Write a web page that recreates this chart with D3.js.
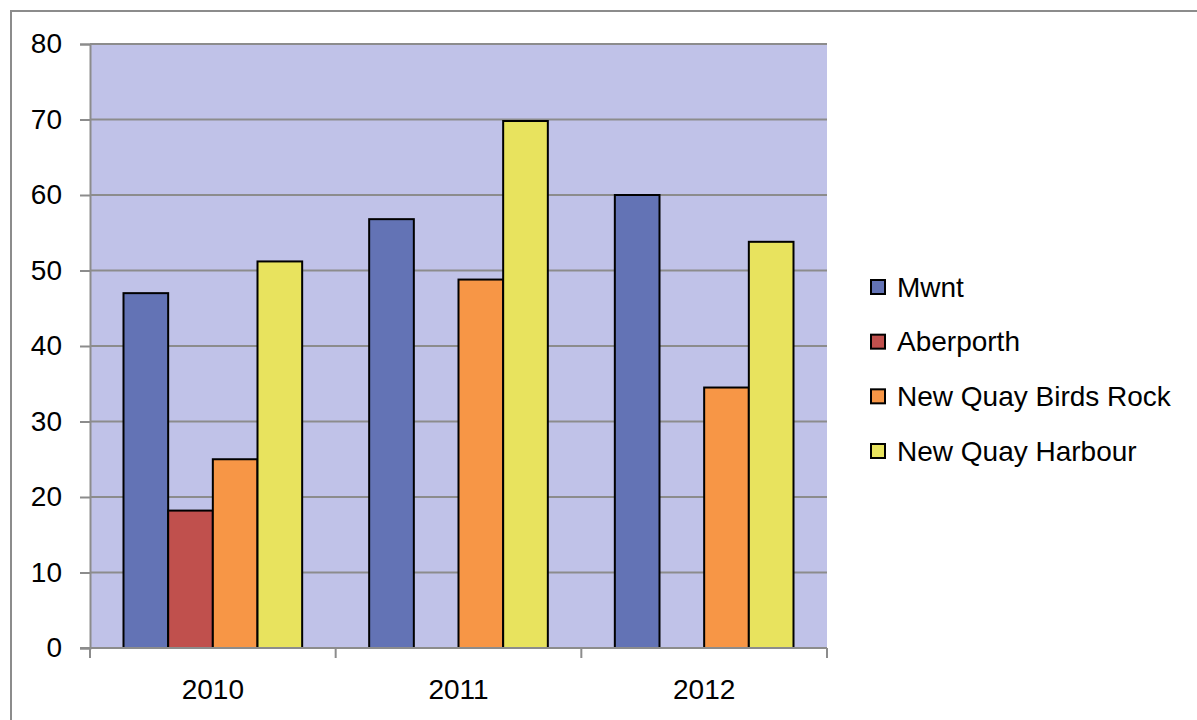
<!DOCTYPE html>
<html>
<head>
<meta charset="utf-8">
<script src="https://cdn.jsdelivr.net/npm/d3@7"></script>
<style>
  html, body { margin: 0; padding: 0; background: #ffffff; }
  svg { display: block; }
  text { font-family: "Liberation Sans", Arial, sans-serif; fill: #000; }
</style>
</head>
<body>
<svg id="chart" width="1197" height="720"></svg>
<script>
// Years on the category axis
const years = ["2010", "2011", "2012"];

// Sites (one series each)
const sites = ["Mwnt", "Aberporth", "New Quay Birds Rock", "New Quay Harbour"];

// Counts per site, one value per year (null = no bar)
const mwnt       = [47, 56.8, 60];
const aberporth  = [18.2, null, null];
const birdsRock  = [25, 48.8, 34.5];
const harbour    = [51.2, 69.8, 53.8];

// Value-axis ticks
const yTicks = [0, 10, 20, 30, 40, 50, 60, 70, 80];

const seriesValues = [mwnt, aberporth, birdsRock, harbour];
const colors = ["#6373B5", "#C0504D", "#F79646", "#E8E35E"];

const svg = d3.select("#chart");

// Outer chart frame
svg.append("rect")
  .attr("x", 11).attr("y", 11)
  .attr("width", 1200).attr("height", 720)
  .attr("fill", "none").attr("stroke", "#8c8c8c").attr("stroke-width", 2);

const plot = { left: 90, right: 827, top: 44, bottom: 648 };

const x0 = d3.scaleBand()
  .domain(years)
  .range([plot.left, plot.right])
  .paddingInner(0).paddingOuter(0);

// Bars take 4 slots of width w with a gap of 1.5w per category
const x1 = d3.scaleBand()
  .domain(sites)
  .range([0, x0.bandwidth()])
  .paddingInner(0)
  .paddingOuter(0.75);

const y = d3.scaleLinear()
  .domain([0, 80])
  .range([plot.bottom, plot.top]);

// Plot background
svg.append("rect")
  .attr("x", plot.left).attr("y", plot.top)
  .attr("width", plot.right - plot.left)
  .attr("height", plot.bottom - plot.top)
  .attr("fill", "#C0C2E8");

// Horizontal gridlines
svg.append("g")
  .selectAll("line")
  .data(yTicks.filter(d => d > 0))
  .join("line")
  .attr("x1", plot.left).attr("x2", plot.right)
  .attr("y1", d => y(d)).attr("y2", d => y(d))
  .attr("stroke", "#8c8c8c").attr("stroke-width", 2);

// Bars
const rows = [];
years.forEach((yr, i) => {
  sites.forEach((s, j) => {
    const v = seriesValues[j][i];
    if (v != null) rows.push({ year: yr, site: s, value: v, color: colors[j] });
  });
});

svg.append("g")
  .selectAll("rect")
  .data(rows)
  .join("rect")
  .attr("x", d => x0(d.year) + x1(d.site))
  .attr("y", d => y(d.value))
  .attr("width", x1.bandwidth())
  .attr("height", d => y(0) - y(d.value))
  .attr("fill", d => d.color)
  .attr("stroke", "#000").attr("stroke-width", 2);

// Value axis
const yAxis = d3.axisLeft(y)
  .tickValues(yTicks)
  .tickSize(10)
  .tickPadding(18)
  .tickFormat(d3.format("d"));

const gy = svg.append("g")
  .attr("transform", `translate(${plot.left},0)`)
  .call(yAxis);
gy.select(".domain").attr("stroke", "#8c8c8c").attr("stroke-width", 2);
gy.selectAll(".tick line").attr("stroke", "#8c8c8c").attr("stroke-width", 2);
gy.selectAll(".tick text")
  .attr("font-size", 28)
  .attr("font-family", "Liberation Sans, Arial, sans-serif")
  .attr("fill", "#000");

// Category axis: ticks at category boundaries
const boundaries = [plot.left].concat(years.map(yr => x0(yr) + x0.bandwidth()));
const gx = svg.append("g");
gx.append("line")
  .attr("x1", plot.left - 10).attr("x2", plot.right)
  .attr("y1", plot.bottom).attr("y2", plot.bottom)
  .attr("stroke", "#8c8c8c").attr("stroke-width", 2);
gx.selectAll("line.tick")
  .data(boundaries)
  .join("line")
  .attr("class", "tick")
  .attr("x1", d => d).attr("x2", d => d)
  .attr("y1", plot.bottom).attr("y2", plot.bottom + 10)
  .attr("stroke", "#8c8c8c").attr("stroke-width", 2);
gx.selectAll("text")
  .data(years)
  .join("text")
  .attr("x", d => x0(d) + x0.bandwidth() / 2)
  .attr("y", 699)
  .attr("text-anchor", "middle")
  .attr("font-size", 28)
  .text(d => d);

// Legend
const legend = svg.append("g");
const legendY = d3.scalePoint().domain(sites).range([287, 451]);
const item = legend.selectAll("g")
  .data(sites)
  .join("g")
  .attr("transform", d => `translate(870,${legendY(d)})`);
item.append("rect")
  .attr("x", 1).attr("y", -7)
  .attr("width", 14).attr("height", 14)
  .attr("fill", (d, i) => colors[i])
  .attr("stroke", "#000").attr("stroke-width", 2);
item.append("text")
  .attr("x", 27)
  .attr("y", 0)
  .attr("dy", "0.35em")
  .attr("font-size", 28)
  .text(d => d);
</script>
</body>
</html>
